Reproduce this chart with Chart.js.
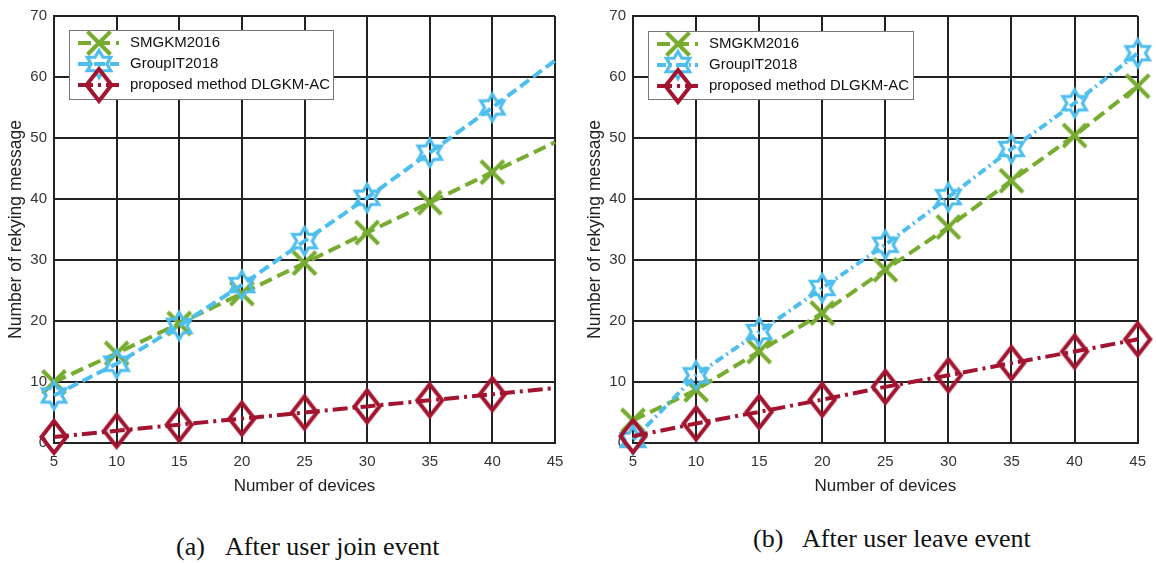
<!DOCTYPE html>
<html>
<head>
<meta charset="utf-8">
<title>Number of rekying message</title>
<script src="https://cdn.jsdelivr.net/npm/chart.js@4.4.0/dist/chart.umd.min.js"></script>
<style>
    body { margin: 0; background: #fff; width: 1156px; height: 563px; position: relative; overflow: hidden; }
    .box { position: absolute; top: 0; height: 500px; }
    #boxJoin { left: 0; width: 578px; }
    #boxLeave { left: 580px; width: 576px; }
    .caption {
        position: absolute; white-space: nowrap; color: #111;
        font-family: "Liberation Serif", "Times New Roman", serif; font-size: 26px; line-height: 26px;
    }
</style>
</head>
<body>
<div class="box" id="boxJoin"><canvas id="joinChart"></canvas></div>
<div class="box" id="boxLeave"><canvas id="leaveChart"></canvas></div>
<div class="caption" style="left:176px; top:534px">(a)</div>
<div class="caption" style="left:225px; top:534px">After user join event</div>
<div class="caption" style="left:753px; top:526px">(b)</div>
<div class="caption" style="left:802px; top:526px">After user leave event</div>

<script>
// Дані
const devices = [5, 10, 15, 20, 25, 30, 35, 40, 45];
const seriesNames = ["SMGKM2016", "GroupIT2018", "proposed method DLGKM-AC"];

// (a) join event
const joinSMGKM = [10, 14.7, 19.6, 24.5, 29.5, 34.5, 39.4, 44.4, 49.3];
const joinGroupIT = [7.8, 13, 19.2, 25.9, 33.1, 40.2, 47.6, 55, 62.7];
const joinDLGKM = [1, 2, 3, 4, 5, 6, 7, 8, 9];

// (b) leave event
const leaveSMGKM = [3.7, 8.7, 15, 21.3, 28.4, 35.4, 43, 50.4, 58.5];
const leaveGroupIT = [0.5, 11.1, 18.2, 25.4, 32.5, 40.3, 48.2, 55.7, 63.9];
const leaveDLGKM = [1.1, 3.2, 5.1, 7.1, 9.2, 11.1, 13.1, 15, 17];

const yTicks = [0, 10, 20, 30, 40, 50, 60, 70];

const GREEN = "#77ac30";
const BLUE = "#4dbeee";
const RED = "#a2142f";
const FONT = "'Liberation Sans', Arial, sans-serif";

// Маркери малюємо на маленьких canvas
function makeMarker(kind, color) {
    const c = document.createElement("canvas");
    c.width = 36;
    c.height = 40;
    const g = c.getContext("2d");
    const cx = 18, cy = 20;
    g.strokeStyle = color;
    g.lineJoin = "miter";
    g.beginPath();
    if (kind === "x") {
        const r = 11.5;
        g.lineWidth = 4;
        g.moveTo(cx - r, cy - r); g.lineTo(cx + r, cy + r);
        g.moveTo(cx + r, cy - r); g.lineTo(cx - r, cy + r);
    } else if (kind === "star") {
        const R = 13.5, r = R / Math.sqrt(3);
        g.lineWidth = 3.2;
        for (let k = 0; k < 12; k++) {
            const a = -Math.PI / 2 + k * Math.PI / 6;
            const rr = k % 2 === 0 ? R : r;
            const px = cx + rr * Math.cos(a), py = cy + rr * Math.sin(a);
            if (k === 0) g.moveTo(px, py); else g.lineTo(px, py);
        }
        g.closePath();
    } else {
        g.lineWidth = 4;
        g.moveTo(cx, cy - 16);
        g.lineTo(cx + 12.5, cy);
        g.lineTo(cx, cy + 16);
        g.lineTo(cx - 12.5, cy);
        g.closePath();
    }
    g.stroke();
    return c;
}

const markX = makeMarker("x", GREEN);
const markStar = makeMarker("star", BLUE);
const markDiamond = makeMarker("diamond", RED);

// Легенда в рамці всередині області графіка
const boxLegend = {
    id: "boxLegend",
    afterDraw(chart, args, opts) {
        const ctx = chart.ctx;
        ctx.save();
        ctx.fillStyle = "#fff";
        ctx.fillRect(opts.x, opts.y, opts.w, opts.h);
        ctx.strokeStyle = "#777";
        ctx.lineWidth = 1;
        ctx.strokeRect(opts.x + 0.5, opts.y + 0.5, opts.w, opts.h);
        chart.data.datasets.forEach((ds, i) => {
            const y = opts.y + 13 + i * 21;
            ctx.strokeStyle = ds.borderColor;
            ctx.lineWidth = ds.borderWidth;
            ctx.setLineDash(ds.borderDash);
            ctx.beginPath();
            ctx.moveTo(opts.x + 9, y);
            ctx.lineTo(opts.x + 50, y);
            ctx.stroke();
            ctx.setLineDash([]);
            const m = ds.pointStyle;
            ctx.drawImage(m, opts.x + 30 - m.width / 2, y - m.height / 2);
            ctx.fillStyle = "#111";
            ctx.font = "15px " + FONT;
            ctx.textBaseline = "middle";
            ctx.fillText(ds.label, opts.x + 61, y);
        });
        ctx.restore();
    }
};

function makeDatasets(smgkm, groupit, dlgkm, blueDash, hideLast) {
    const radius = ctx => (hideLast && ctx.dataIndex === devices.length - 1) ? 0 : 8;
    const base = { borderWidth: 4, fill: false, tension: 0, clip: false, pointRadius: radius, pointHoverRadius: radius };
    return [
        { ...base, label: seriesNames[0], data: smgkm, borderColor: GREEN, borderDash: [13, 6], pointStyle: markX, order: 3 },
        { ...base, label: seriesNames[1], data: groupit, borderColor: BLUE, borderDash: blueDash, pointStyle: markStar, order: 2 },
        { ...base, label: seriesNames[2], data: dlgkm, borderColor: RED, borderDash: [15, 5, 3, 5], pointStyle: markDiamond, order: 1 }
    ];
}

function buildChart(id, datasets, axisWidth, padRight, titlePad, legendBox) {
    const gridStyle = { color: "#222", lineWidth: 2, drawTicks: false };
    const borderStyle = { display: true, color: "#222", width: 2 };
    return new Chart(document.getElementById(id), {
        type: "line",
        data: { labels: devices.map(String), datasets: datasets },
        options: {
            responsive: true,
            maintainAspectRatio: false,
            animation: false,
            layout: { padding: { top: 14, right: padRight, left: 0, bottom: 0 } },
            plugins: {
                legend: { display: false },
                tooltip: { enabled: false },
                boxLegend: legendBox
            },
            scales: {
                x: {
                    offset: false,
                    grid: { ...gridStyle, offset: false },
                    border: borderStyle,
                    ticks: { color: "#333", font: { family: FONT, size: 15 }, padding: 10, maxRotation: 0, autoSkip: false },
                    title: { display: true, text: "Number of devices", color: "#222", font: { family: FONT, size: 17 }, padding: { top: 0, bottom: 3 } },
                    afterFit: s => { s.height = 57; }
                },
                y: {
                    min: yTicks[0],
                    max: yTicks[yTicks.length - 1],
                    afterBuildTicks: s => { s.ticks = yTicks.map(v => ({ value: v })); },
                    grid: gridStyle,
                    border: borderStyle,
                    ticks: { color: "#333", font: { family: FONT, size: 15 }, padding: 7 },
                    title: { display: true, text: "Number of rekying message", color: "#222", font: { family: FONT, size: 17.5 }, padding: { top: titlePad, bottom: 0 } },
                    afterFit: s => { s.width = axisWidth; }
                }
            }
        },
        plugins: [boxLegend]
    });
}

document.addEventListener("DOMContentLoaded", () => {
    buildChart("joinChart",
        makeDatasets(joinSMGKM, joinGroupIT, joinDLGKM, [11, 5], true),
        54, 23, 6, { x: 69, y: 30, w: 264, h: 69 });

    buildChart("leaveChart",
        makeDatasets(leaveSMGKM, leaveGroupIT, leaveDLGKM, [9, 4, 2, 4], false),
        53, 14, 5, { x: 68, y: 31, w: 265, h: 68 });
});
</script>
</body>
</html>
